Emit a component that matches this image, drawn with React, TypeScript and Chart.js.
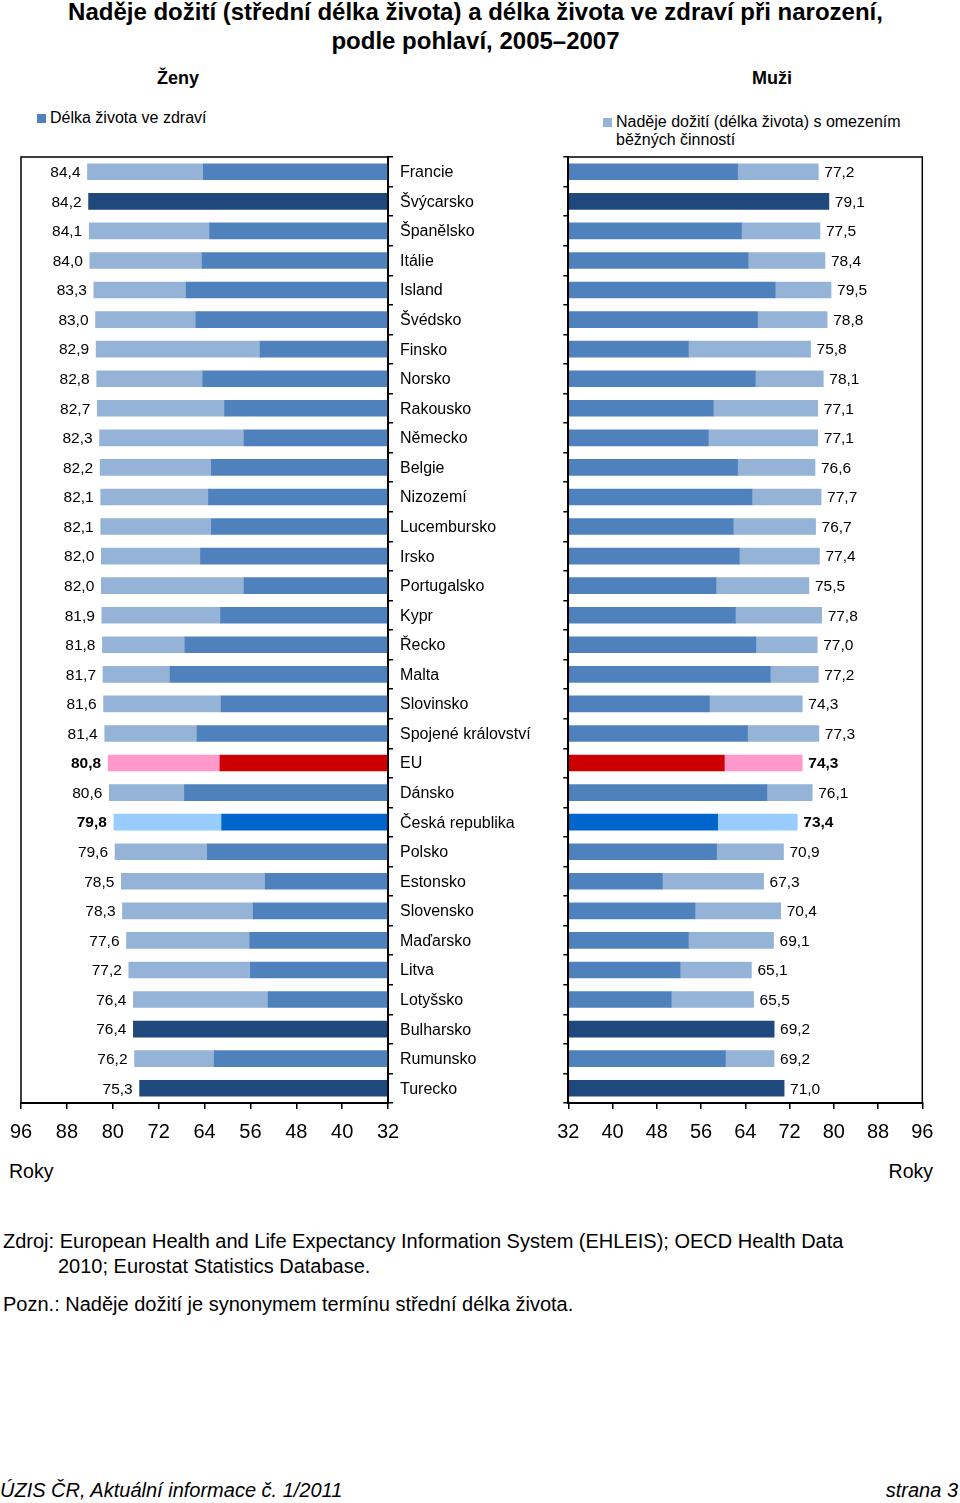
import React, { useEffect, useRef } from "react";
import { Chart, registerables } from "chart.js";

Chart.register(...registerables);

const countries = [
  "Francie", "Švýcarsko", "Španělsko", "Itálie", "Island", "Švédsko", "Finsko", "Norsko",
  "Rakousko", "Německo", "Belgie", "Nizozemí", "Lucembursko", "Irsko", "Portugalsko", "Kypr",
  "Řecko", "Malta", "Slovinsko", "Spojené království", "EU", "Dánsko", "Česká republika", "Polsko",
  "Estonsko", "Slovensko", "Maďarsko", "Litva", "Lotyšsko", "Bulharsko", "Rumunsko", "Turecko",
];

// Naděje dožití (total life expectancy) - ženy
const womenTotal = [
  84.4, 84.2, 84.1, 84.0, 83.3, 83.0, 82.9, 82.8, 82.7, 82.3, 82.2, 82.1, 82.1, 82.0, 82.0, 81.9,
  81.8, 81.7, 81.6, 81.4, 80.8, 80.6, 79.8, 79.6, 78.5, 78.3, 77.6, 77.2, 76.4, 76.4, 76.2, 75.3,
];
// Délka života ve zdraví - ženy (null = not available)
const womenHealthy: (number | null)[] = [
  64.2, null, 63.1, 64.4, 67.2, 65.5, 54.3, 64.3, 60.5, 57.1, 62.8, 63.3, 62.8, 64.7, 57.1, 61.2,
  67.4, 70.0, 61.1, 65.3, 61.3, 67.5, 61.0, 63.5, 53.4, 55.5, 56.1, 56.0, 52.9, null, 62.3, null,
];

// Naděje dožití - muži
const menTotal = [
  77.2, 79.1, 77.5, 78.4, 79.5, 78.8, 75.8, 78.1, 77.1, 77.1, 76.6, 77.7, 76.7, 77.4, 75.5, 77.8,
  77.0, 77.2, 74.3, 77.3, 74.3, 76.1, 73.4, 70.9, 67.3, 70.4, 69.1, 65.1, 65.5, 69.2, 69.2, 71.0,
];
// Délka života ve zdraví - muži
const menHealthy: (number | null)[] = [
  62.6, null, 63.3, 64.5, 69.4, 66.2, 53.7, 65.8, 58.2, 57.3, 62.6, 65.2, 61.8, 62.9, 58.7, 62.2,
  65.9, 68.5, 57.5, 64.4, 60.2, 67.9, 59.0, 58.8, 49.0, 54.9, 53.7, 52.2, 50.6, null, 60.4, null,
];

const axisMin = 32;
const axisMax = 96;
const axisStep = 8;

const FONT = "'Liberation Sans', Arial, Helvetica, sans-serif";
const C_MID = "#4F81BD";
const C_LIGHT = "#95B3D7";
const C_NAVY = "#1F497D";
const C_EU = "#CC0000";
const C_EU_L = "#FF99CC";
const C_CZ = "#0066CC";
const C_CZ_L = "#99CCFF";

const isEU = (i: number) => countries[i] === "EU";
const isCZ = (i: number) => countries[i] === "Česká republika";

function darkColors(healthy: (number | null)[]) {
  return countries.map((_, i) =>
    isEU(i) ? C_EU : isCZ(i) ? C_CZ : healthy[i] == null ? C_NAVY : C_MID
  );
}
function lightColors() {
  return countries.map((_, i) => (isEU(i) ? C_EU_L : isCZ(i) ? C_CZ_L : C_LIGHT));
}

const fmt = (v: number) => v.toFixed(1).replace(".", ",");

function zeroPad(s: any) {
  s.paddingTop = 0;
  s.paddingBottom = 0;
  s.paddingLeft = 0;
  s.paddingRight = 0;
}

function makeConfig(left: boolean): any {
  const total = left ? womenTotal : menTotal;
  const healthy = left ? womenHealthy : menHealthy;

  const framePlugin = {
    id: "frame",
    afterDraw(chart: any) {
      const { ctx, chartArea: a } = chart;
      ctx.save();
      ctx.strokeStyle = "#000";
      ctx.lineWidth = 1.5;
      ctx.strokeRect(a.left, a.top, a.right - a.left, a.bottom - a.top);
      ctx.restore();
    },
  };

  const valuePlugin = {
    id: "values",
    afterDatasetsDraw(chart: any) {
      const { ctx } = chart;
      const xs = chart.scales.x;
      const ys = chart.scales.y;
      ctx.save();
      ctx.fillStyle = "#000";
      ctx.textBaseline = "middle";
      countries.forEach((name, i) => {
        const bold = isEU(i) || isCZ(i);
        ctx.font = `${bold ? "bold " : ""}15.5px ${FONT}`;
        ctx.textAlign = left ? "right" : "left";
        const x = xs.getPixelForValue(total[i]);
        const y = ys.getPixelForValue(i);
        ctx.fillText(fmt(total[i]), left ? x - 7 : x + 6, y + 1);
        if (left) {
          // category names between the two panels
          ctx.font = `16px ${FONT}`;
          ctx.textAlign = "left";
          ctx.fillText(name, ys.left + 12, y + 1);
        }
      });
      ctx.restore();
    },
  };

  return {
    type: "bar",
    data: {
      labels: countries,
      datasets: [
        {
          label: "Délka života ve zdraví",
          data: countries.map((_, i) => (healthy[i] == null ? total[i] : healthy[i])),
          backgroundColor: darkColors(healthy),
          borderWidth: 0,
          barThickness: 16,
        },
        {
          label: "Naděje dožití (délka života) s omezením běžných činností",
          data: countries.map((_, i) =>
            healthy[i] == null ? 0 : Math.round((total[i] - (healthy[i] as number)) * 10) / 10
          ),
          backgroundColor: lightColors(),
          borderWidth: 0,
          barThickness: 16,
        },
      ],
    },
    options: {
      indexAxis: "y",
      animation: false,
      responsive: false,
      maintainAspectRatio: false,
      layout: {
        padding: left ? { left: 21, top: 7, right: 0, bottom: 0 } : { left: 0, top: 7, right: 37.7, bottom: 0 },
      },
      plugins: {
        legend: { display: false },
        tooltip: { enabled: false },
        title: { display: false },
      },
      scales: {
        x: {
          type: "linear",
          stacked: true,
          min: axisMin,
          max: axisMax,
          reverse: left,
          ticks: {
            stepSize: axisStep,
            font: { family: FONT, size: 20 },
            color: "#000",
            padding: 11,
            maxRotation: 0,
            autoSkip: false,
          },
          grid: {
            display: true,
            drawOnChartArea: false,
            drawTicks: true,
            tickLength: 6,
            color: "#000",
            lineWidth: 1.5,
          },
          border: { display: true, color: "#000", width: 2 },
          afterFit: (s: any) => {
            s.height = 47;
            zeroPad(s);
          },
        },
        y: {
          type: "category",
          stacked: true,
          position: left ? "right" : "left",
          offset: true,
          ticks: {
            display: false,
            autoSkip: false,
          },
          grid: {
            display: true,
            drawOnChartArea: false,
            drawTicks: true,
            tickLength: 5,
            offset: true,
            color: "#000",
            lineWidth: 1.5,
          },
          border: { display: true, color: "#000", width: 2 },
          afterFit: (s: any) => {
            s.width = left ? 172 : 13.3;
            zeroPad(s);
          },
        },
      },
    },
    plugins: [framePlugin, valuePlugin],
  };
}

function ChartCanvas({ left, style, width, height }: { left: boolean; style: React.CSSProperties; width: number; height: number }) {
  const ref = useRef<HTMLCanvasElement | null>(null);
  useEffect(() => {
    if (!ref.current) return;
    const chart = new Chart(ref.current, makeConfig(left));
    return () => chart.destroy();
  }, [left]);
  return <canvas ref={ref} width={width} height={height} style={{ position: "absolute", width, height, ...style }} />;
}

function Txt({ x, cy, children, size = 16, weight = "normal", italic = false, align = "left", w }: any) {
  const lh = Math.round(size * 1.25);
  const style: React.CSSProperties = {
    position: "absolute",
    top: cy - lh / 2,
    fontSize: size,
    lineHeight: `${lh}px`,
    fontWeight: weight,
    fontStyle: italic ? "italic" : "normal",
    whiteSpace: "nowrap",
    color: "#000",
  };
  if (align === "left") style.left = x;
  else if (align === "right") style.right = 960 - x;
  else {
    style.left = x - (w || 400) / 2;
    style.width = w || 400;
    style.textAlign = "center";
  }
  return <div style={style}>{children}</div>;
}

export default function App() {
  return (
    <div
      style={{
        position: "relative",
        width: 960,
        height: 1503,
        background: "#fff",
        fontFamily: FONT,
        overflow: "hidden",
      }}
    >
      <style>{"body{margin:0;background:#fff;}"}</style>

      <Txt x={475.5} cy={12} size={24} weight="bold" align="center" w={940}>
        Naděje dožití (střední délka života) a délka života ve zdraví při narození,
      </Txt>
      <Txt x={475.5} cy={41} size={24} weight="bold" align="center" w={940}>
        podle pohlaví, 2005–2007
      </Txt>

      <Txt x={178} cy={78} size={18} weight="bold" align="center" w={200}>
        Ženy
      </Txt>
      <Txt x={772} cy={78} size={18} weight="bold" align="center" w={200}>
        Muži
      </Txt>

      <div style={{ position: "absolute", left: 37, top: 114, width: 9, height: 9, background: C_MID }} />
      <Txt x={50} cy={118} size={16}>
        Délka života ve zdraví
      </Txt>

      <div style={{ position: "absolute", left: 603, top: 118, width: 9, height: 9, background: C_LIGHT }} />
      <Txt x={616} cy={122} size={16}>
        Naděje dožití (délka života) s omezením
      </Txt>
      <Txt x={616} cy={140} size={16}>
        běžných činností
      </Txt>

      <ChartCanvas left={true} width={560} height={1000} style={{ left: 0, top: 150 }} />
      <ChartCanvas left={false} width={405} height={1000} style={{ left: 555, top: 150 }} />

      <Txt x={9} cy={1171} size={19.5}>
        Roky
      </Txt>
      <Txt x={933} cy={1171} size={19.5} align="right">
        Roky
      </Txt>

      <Txt x={3} cy={1241} size={20}>
        Zdroj: European Health and Life Expectancy Information System (EHLEIS); OECD Health Data
      </Txt>
      <Txt x={58} cy={1266} size={20}>
        2010; Eurostat Statistics Database.
      </Txt>
      <Txt x={3} cy={1304} size={20}>
        Pozn.: Naděje dožití je synonymem termínu střední délka života.
      </Txt>

      <Txt x={0} cy={1490} size={20} italic>
        ÚZIS ČR, Aktuální informace č. 1/2011
      </Txt>
      <Txt x={958} cy={1490} size={20} italic align="right">
        strana 3
      </Txt>
    </div>
  );
}
